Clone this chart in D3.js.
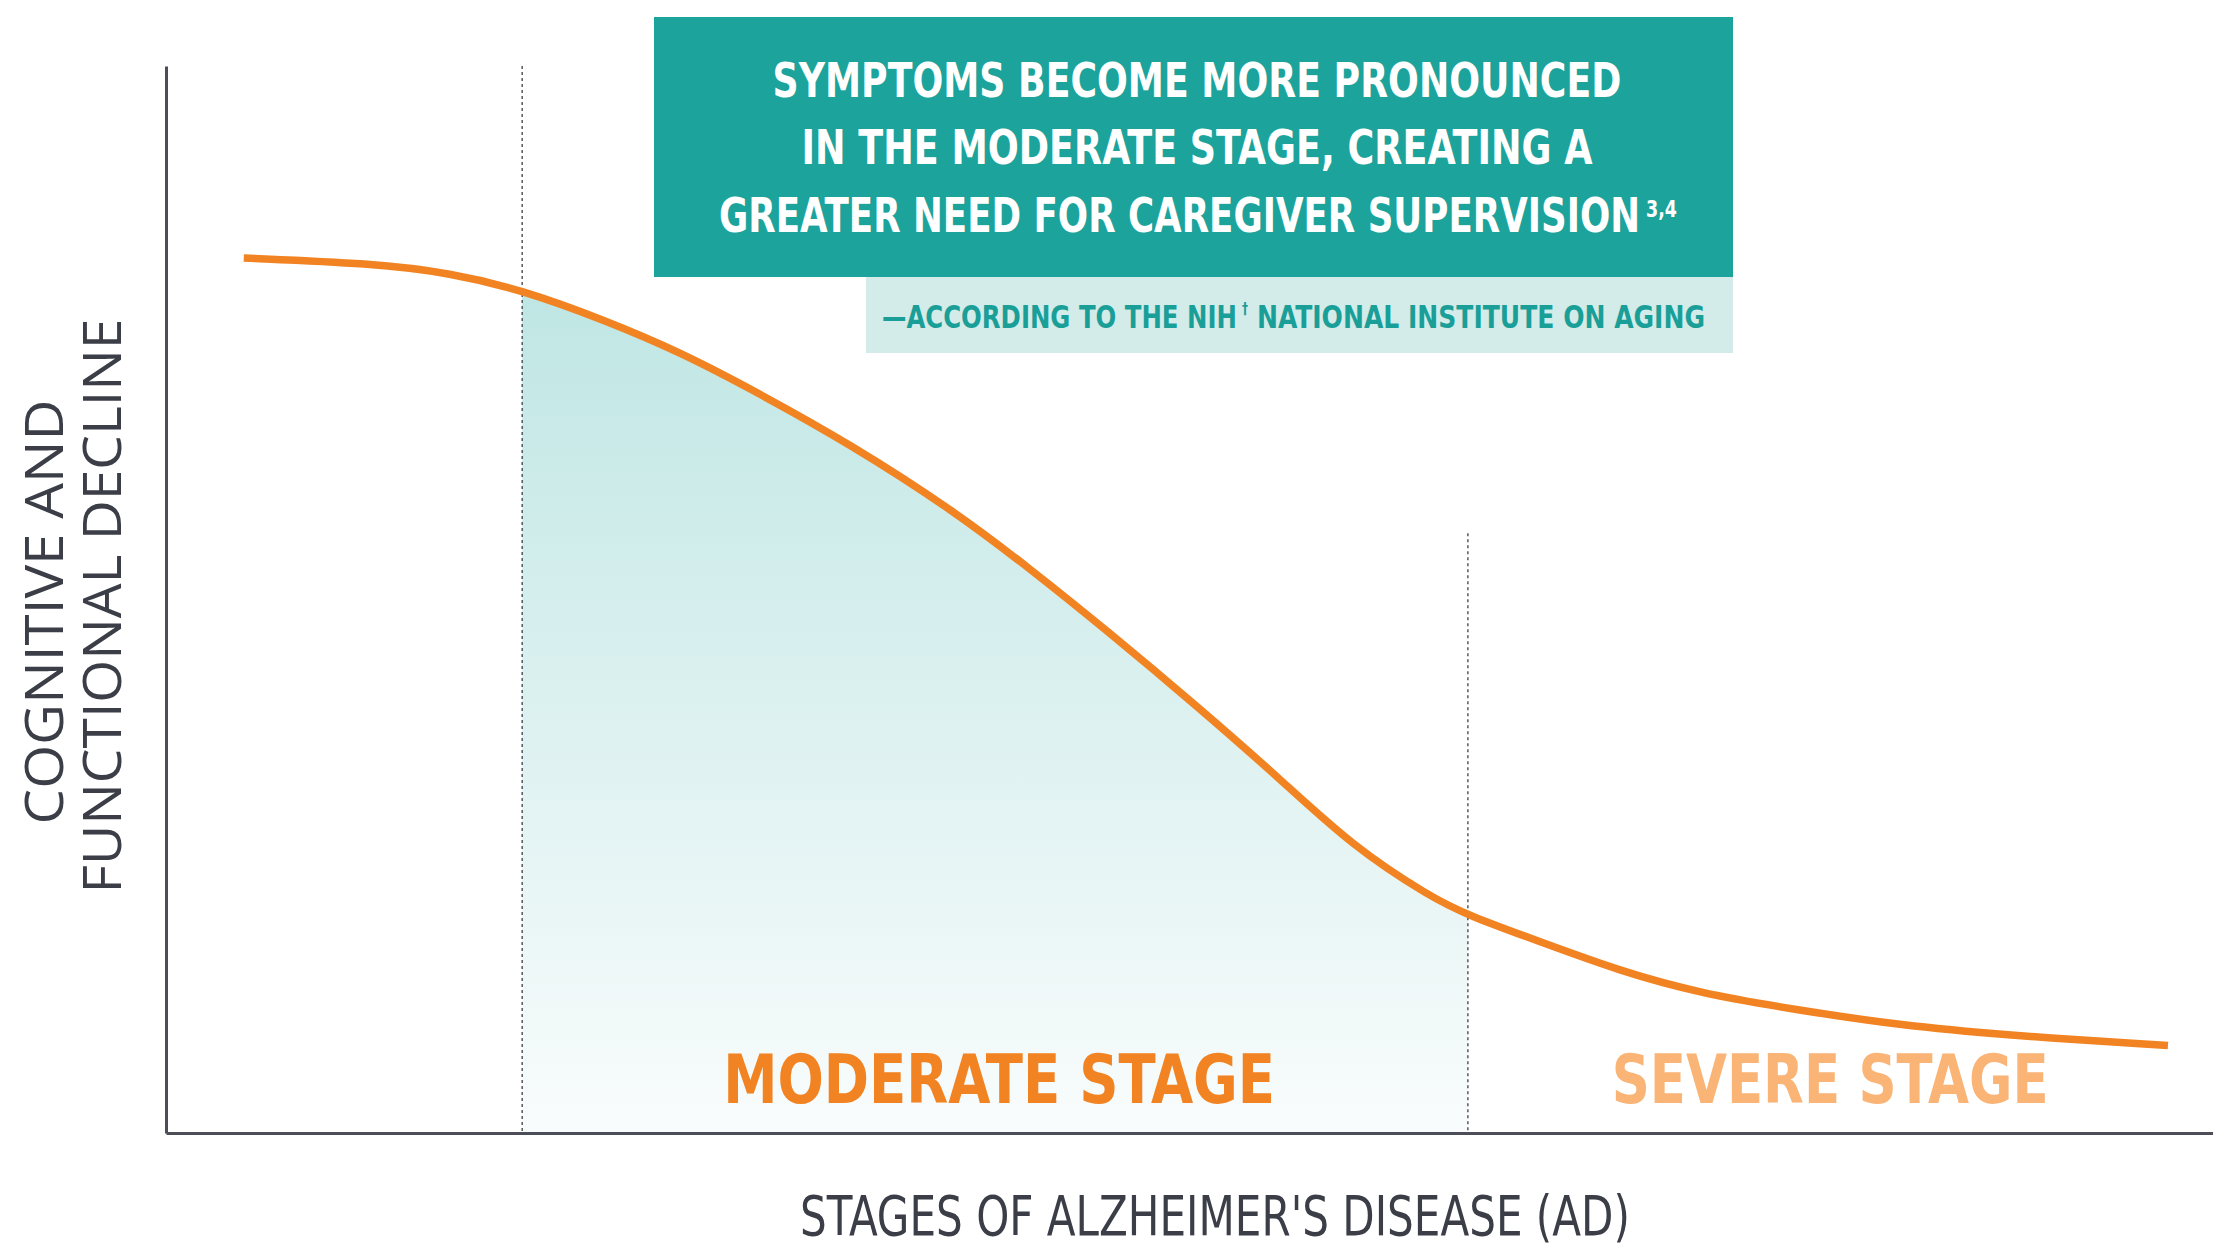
<!DOCTYPE html>
<html>
<head>
<meta charset="utf-8">
<script src="https://cdn.jsdelivr.net/npm/d3@7"></script>
<style>
  body { margin: 0; background: #fff; }
  svg { display: block; }
  .narrow { font-family: "Liberation Sans Narrow", "DejaVu Sans Condensed", Roboto, sans-serif; font-stretch: condensed; }
</style>
</head>
<body>
<svg id="chart" width="2213" height="1248"></svg>
<script>
// progress through the disease (0-100) and decline level (0-100)
const stageProgress = [3.8, 10.1, 13.9, 17.4, 21.4, 25.1, 28.8, 33.4, 38.5, 42.2, 45.9, 50.5, 54.3, 58.0, 61.8, 63.6, 67.3, 71.0, 74.9, 79.8, 84.7, 89.6, 97.8];
const declineLevel  = [82.0, 81.5, 80.6, 79.0, 76.2, 73.2, 69.5, 64.6, 58.3, 52.9, 47.2, 39.8, 33.4, 26.8, 22.1, 20.4, 17.8, 15.2, 13.1, 11.5, 10.1, 9.2, 8.2];

// stage boundaries (dotted lines) and how high they reach
const stageBounds = [17.4, 63.6];
const boundTops = [100, 56.2];

// stage labels, and where they sit along the progress axis
const stageLabels = ['MODERATE STAGE', 'SEVERE STAGE'];
const stageLabelAt = [40.7, 81.3];

const titleLines = [
  'SYMPTOMS BECOME MORE PRONOUNCED',
  'IN THE MODERATE STAGE, CREATING A',
  'GREATER NEED FOR CAREGIVER SUPERVISION'
];
const titleRefs = '3,4';
const sourceParts = ['\u2014ACCORDING TO THE NIH', '\u2020', 'NATIONAL INSTITUTE ON AGING'];
const xTitle = "STAGES OF ALZHEIMER'S DISEASE (AD)";
const yTitle = ['COGNITIVE AND', 'FUNCTIONAL DECLINE'];

const TEAL = '#1ba39c';
const ORANGE = '#f28322';
const AXIS = '#4b4e57';

const svg = d3.select('#chart');
const x = d3.scaleLinear().domain([0, 100]).range([166, 2213]);
const y = d3.scaleLinear().domain([0, 100]).range([1133, 66]);

const points = stageProgress.map((p, i) => ({ p, v: declineLevel[i] }));

// squeeze a text horizontally to a given width, around its anchor point
function fitWidth(sel, width, extra) {
  sel.each(function(d, i) {
    const w = this.getComputedTextLength();
    const target = typeof width === 'function' ? width(d, i) : width;
    const sx = target / w;
    if (extra) {
      this.setAttribute('transform', `${extra(d, i)} scale(${sx},1)`);
    } else {
      const x0 = +this.getAttribute('x');
      const y0 = +this.getAttribute('y');
      this.setAttribute('transform', `translate(${x0},${y0}) scale(${sx},1) translate(${-x0},${-y0})`);
    }
  });
}

// gradient under the moderate stage
const defs = svg.append('defs');
const grad = defs.append('linearGradient')
  .attr('id', 'modFill')
  .attr('gradientUnits', 'userSpaceOnUse')
  .attr('x1', 0).attr('x2', 0)
  .attr('y1', y(79)).attr('y2', y(0));
grad.append('stop').attr('offset', 0).attr('stop-color', '#bfe6e4');
grad.append('stop').attr('offset', 0.45).attr('stop-color', '#d9f0ef');
grad.append('stop').attr('offset', 1).attr('stop-color', '#f9fcfc');

defs.append('clipPath')
  .attr('id', 'moderateClip')
  .append('rect')
  .attr('x', x(stageBounds[0]))
  .attr('y', 0)
  .attr('width', x(stageBounds[1]) - x(stageBounds[0]))
  .attr('height', y(0));

const area = d3.area()
  .x(d => x(d.p))
  .y0(y(0))
  .y1(d => y(d.v))
  .curve(d3.curveBasis);

svg.append('path')
  .datum(points)
  .attr('d', area)
  .attr('clip-path', 'url(#moderateClip)')
  .attr('fill', 'url(#modFill)');

// dotted stage boundaries
svg.selectAll('.bound')
  .data(stageBounds)
  .enter()
  .append('line')
  .attr('class', 'bound')
  .attr('x1', d => x(d)).attr('x2', d => x(d))
  .attr('y1', (d, i) => y(boundTops[i]))
  .attr('y2', y(0))
  .attr('stroke', '#4a4c52')
  .attr('stroke-width', 1.4)
  .attr('stroke-dasharray', '3,3');

// axes, no ticks
svg.append('g')
  .attr('transform', `translate(0,${y(0)})`)
  .call(d3.axisBottom(x).ticks(0).tickSizeOuter(0))
  .call(g => g.select('.domain').attr('stroke', AXIS).attr('stroke-width', 3));

svg.append('g')
  .attr('transform', `translate(${x(0)},0)`)
  .call(d3.axisLeft(y).ticks(0).tickSizeOuter(0))
  .call(g => g.select('.domain').attr('stroke', AXIS).attr('stroke-width', 3));

// the decline curve
const line = d3.line()
  .x(d => x(d.p))
  .y(d => y(d.v))
  .curve(d3.curveBasis);

svg.append('path')
  .datum(points)
  .attr('d', line)
  .attr('fill', 'none')
  .attr('stroke', ORANGE)
  .attr('stroke-width', 7.5);

// stage labels
svg.selectAll('.stageLabel')
  .data(stageLabels)
  .enter()
  .append('text')
  .attr('class', 'stageLabel narrow')
  .attr('x', (d, i) => x(stageLabelAt[i]))
  .attr('y', 1103)
  .attr('text-anchor', 'middle')
  .attr('font-size', 68)
  .attr('font-weight', 700)
  .attr('fill', (d, i) => i === 0 ? ORANGE : '#f9b476')
  .text(d => d)
  .call(fitWidth, (d, i) => i === 0 ? 552 : 437);

// callout box
svg.append('rect')
  .attr('x', 654).attr('y', 17)
  .attr('width', 1079).attr('height', 260)
  .attr('fill', TEAL);

svg.append('rect')
  .attr('x', 866).attr('y', 277)
  .attr('width', 867).attr('height', 76)
  .attr('fill', '#d3ecea');

const titleWidths = [849, 791, 921];
svg.selectAll('.title')
  .data(titleLines)
  .enter()
  .append('text')
  .attr('class', 'title narrow')
  .attr('x', (d, i) => i === 2 ? 719 + 921 / 2 : 1197)
  .attr('y', (d, i) => 97 + i * 67.5)
  .attr('text-anchor', 'middle')
  .attr('font-size', 48)
  .attr('font-weight', 700)
  .attr('fill', '#fff')
  .text(d => d)
  .call(fitWidth, (d, i) => titleWidths[i]);

svg.append('text')
  .attr('class', 'narrow')
  .attr('x', 1646).attr('y', 217)
  .attr('font-size', 23)
  .attr('font-weight', 700)
  .attr('fill', '#fff')
  .text(titleRefs)
  .call(fitWidth, 31);

// source line, in three pieces so the dagger can sit raised
const sourceX = [882, 1242, 1257];
const sourceY = [328, 314, 328];
const sourceSize = [32, 16, 32];
const sourceLen = [355, 6, 448];
svg.selectAll('.source')
  .data(sourceParts)
  .enter()
  .append('text')
  .attr('class', 'source narrow')
  .attr('x', (d, i) => sourceX[i])
  .attr('y', (d, i) => sourceY[i])
  .attr('font-size', (d, i) => sourceSize[i])
  .attr('font-weight', 700)
  .attr('fill', '#1a9f98')
  .text(d => d)
  .call(fitWidth, (d, i) => sourceLen[i]);

// axis titles
svg.append('text')
  .attr('class', 'narrow')
  .attr('x', 1215).attr('y', 1235)
  .attr('text-anchor', 'middle')
  .attr('font-size', 55)
  .attr('fill', '#3b3e47')
  .text(xTitle)
  .call(fitWidth, 830);

const yTitleBase = [63, 121];
const yTitleMid = [612, 606];
const yTitleLen = [425, 575];
svg.selectAll('.yTitle')
  .data(yTitle)
  .enter()
  .append('text')
  .attr('class', 'yTitle')
  .attr('text-anchor', 'middle')
  .attr('font-family', '"Open Sans", Lato, sans-serif')
  .attr('font-size', 53)
  .attr('fill', '#3b3e47')
  .text(d => d)
  .call(fitWidth, (d, i) => yTitleLen[i],
    (d, i) => `translate(${yTitleBase[i]},${yTitleMid[i]}) rotate(-90)`);
</script>
</body>
</html>
